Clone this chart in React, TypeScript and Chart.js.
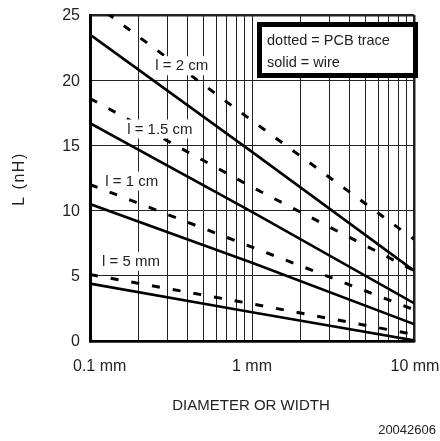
import React, { useEffect, useRef } from 'react';
import { Chart, registerables } from 'chart.js';

Chart.register(...registerables);

// Diameter / width in mm (log axis)
const diameters = [0.1, 1, 10];
// Inductance in nH – solid = wire
const wire2cm = [23.5, 14.5, 5.4];
const wire15cm = [16.7, 9.9, 2.9];
const wire1cm = [10.5, 6.0, 1.3];
const wire5mm = [4.4, 2.2, 0.05];
// dotted = PCB trace
const pcb2cm = [26.1, 16.9, 7.8];
const pcb15cm = [18.6, 11.8, 5.4];
const pcb1cm = [12.0, 7.2, 2.4];
const pcb5mm = [5.1, 2.85, 0.5];

const xGridValues = [0.1, 0.2, 0.3, 0.4, 0.5, 0.6, 0.7, 0.8, 0.9, 1, 2, 3, 4, 5, 6, 7, 8, 9, 10];
const xTickValues = [0.1, 1, 10];
const xTickLabels = ['0.1 mm', '1 mm', '10 mm'];
const yTickValues = [0, 5, 10, 15, 20, 25];
const yTickLabels = ['0', '5', '10', '15', '20', '25'];

const lineLabels = ['l = 2 cm', 'l = 1.5 cm', 'l = 1 cm', 'l = 5 mm'];
const lineLabelX = [0.368, 0.27, 0.181, 0.179];
const lineLabelY = [21.15, 16.3, 12.3, 6.15];

const legendLines = ['dotted = PCB trace', 'solid = wire'];
const xTitle = 'DIAMETER OR WIDTH';
const yTitle = 'L (nH)';
const figureId = '20042606';

const FONT = '"Liberation Sans", Arial, sans-serif';
const TEXT = '#222';

function series(values: number[]) {
  return diameters.map((d, i) => ({ x: d, y: values[i] }));
}

const textPlugin = {
  id: 'textPlugin',
  afterDatasetsDraw(chart: any) {
    const ctx = chart.ctx as CanvasRenderingContext2D;
    const xs = chart.scales.x;
    const ys = chart.scales.y;
    ctx.save();
    // curve labels on white boxes
    ctx.font = `15px ${FONT}`;
    ctx.textAlign = 'center';
    ctx.textBaseline = 'middle';
    lineLabels.forEach((t, i) => {
      const cx = xs.getPixelForValue(lineLabelX[i]);
      const cy = ys.getPixelForValue(lineLabelY[i]);
      const w = ctx.measureText(t).width;
      ctx.fillStyle = '#fff';
      ctx.fillRect(cx - w / 2 - 4, cy - 9, w + 8, 19);
      ctx.fillStyle = TEXT;
      ctx.fillText(t, cx, cy + 1);
    });
    // legend box
    const bx = 259.5, by = 24.5, bw = 156, bh = 51;
    ctx.fillStyle = '#fff';
    ctx.fillRect(bx, by, bw, bh);
    ctx.lineWidth = 5;
    ctx.strokeStyle = '#000';
    ctx.strokeRect(bx, by, bw, bh);
    ctx.fillStyle = TEXT;
    ctx.textAlign = 'left';
    ctx.font = `14.5px ${FONT}`;
    ctx.fillText(legendLines[0], 267, 41);
    ctx.fillText(legendLines[1], 267, 63);
    ctx.restore();
  },
  afterDraw(chart: any) {
    const ctx = chart.ctx as CanvasRenderingContext2D;
    const xs = chart.scales.x;
    const ys = chart.scales.y;
    ctx.save();
    ctx.fillStyle = TEXT;
    ctx.textBaseline = 'middle';
    ctx.font = `16px ${FONT}`;
    // y tick labels
    ctx.textAlign = 'right';
    yTickValues.forEach((v, i) => {
      ctx.fillText(yTickLabels[i], chart.chartArea.left - 10, ys.getPixelForValue(v) + 1);
    });
    // x tick labels
    xTickValues.forEach((v, i) => {
      const px = xs.getPixelForValue(v);
      const y = chart.chartArea.bottom + 26;
      if (i === 0) {
        ctx.textAlign = 'left';
        ctx.fillText(xTickLabels[i], px - 17, y);
      } else {
        ctx.textAlign = 'center';
        ctx.fillText(xTickLabels[i], px + (i === xTickValues.length - 1 ? 1 : 0), y);
      }
    });
    // x title
    ctx.textAlign = 'center';
    ctx.font = `15px ${FONT}`;
    ctx.fillText(xTitle, (chart.chartArea.left + chart.chartArea.right) / 2 - 1, 406);
    // figure id
    ctx.textAlign = 'right';
    ctx.font = `13px ${FONT}`;
    ctx.fillText(figureId, 436, 430);
    // y title
    ctx.translate(20, 179);
    ctx.rotate(-Math.PI / 2);
    ctx.textAlign = 'center';
    ctx.font = `16px ${FONT}`;
    (ctx as any).letterSpacing = '1.5px';
    ctx.fillText(yTitle, 0, 0);
    ctx.restore();
  },
};

export default function App() {
  const ref = useRef<HTMLCanvasElement | null>(null);
  useEffect(() => {
    if (!ref.current) return;
    const solid = (values: number[]) => ({
      data: series(values),
      borderColor: '#000',
      borderWidth: 2.6,
      pointRadius: 0,
      tension: 0,
      fill: false,
    });
    const dashed = (values: number[]) => ({
      data: series(values),
      borderColor: '#000',
      borderWidth: 3,
      borderDash: [8, 13],
      pointRadius: 0,
      tension: 0,
      fill: false,
    });
    const chart = new Chart(ref.current, {
      type: 'line',
      data: {
        datasets: [
          solid(wire2cm), solid(wire15cm), solid(wire1cm), solid(wire5mm),
          dashed(pcb2cm), dashed(pcb15cm), dashed(pcb1cm), dashed(pcb5mm),
        ] as any,
      },
      options: {
        responsive: false,
        animation: false,
        events: [],
        layout: { padding: { left: 90, right: 26, top: 15, bottom: 100 } },
        plugins: { legend: { display: false }, tooltip: { enabled: false } },
        scales: {
          x: {
            type: 'logarithmic',
            min: 0.1,
            max: 10,
            afterBuildTicks: (scale: any) => {
              scale.ticks = xGridValues.map((v) => ({ value: v }));
            },
            ticks: { display: false },
            grid: {
              drawTicks: false,
              color: '#222',
              lineWidth: (c: any) => (c.tick && (c.tick.value === 0.1 || c.tick.value === 10) ? 2.5 : 1),
            },
            border: { display: true, color: '#000', width: 2.5 },
          },
          y: {
            type: 'linear',
            min: 0,
            max: 25,
            ticks: { display: false, stepSize: 5 },
            grid: {
              drawTicks: false,
              color: '#222',
              lineWidth: (c: any) => (c.tick && (c.tick.value === 0 || c.tick.value === 25) ? 2.5 : 1),
            },
            border: { display: true, color: '#000', width: 3 },
          },
        },
      } as any,
      plugins: [textPlugin],
    });
    return () => chart.destroy();
  }, []);
  return (
    <div style={{ position: 'fixed', left: 0, top: 0, width: 440, height: 441, background: '#fff' }}>
      <canvas ref={ref} width={440} height={441} style={{ width: 440, height: 441, display: 'block' }} />
    </div>
  );
}
